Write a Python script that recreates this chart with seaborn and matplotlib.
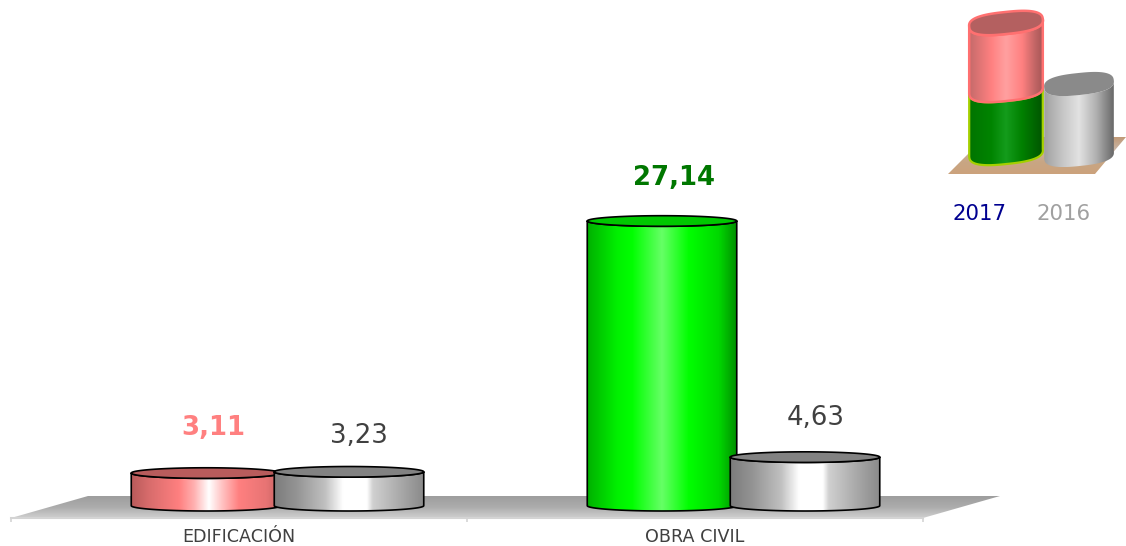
import numpy as np
import pandas as pd
import matplotlib
matplotlib.use("Agg")
import matplotlib.pyplot as plt
import seaborn as sns
from matplotlib.colors import LinearSegmentedColormap as LSC
from matplotlib.patches import Polygon

categories = ["EDIFICACIÓN", "OBRA CIVIL"]
years = ["2017", "2016"]
values_2017 = [3.11, 27.14]
values_2016 = [3.23, 4.63]
labels_2017 = ["3,11", "27,14"]
labels_2016 = ["3,23", "4,63"]

W, H = 1126, 546
PX_PER_UNIT = 10.49
AX_L, AX_R, AX_B, AX_T = 11, 923, 518, 120
ZERO_PX = 505.7

sns.set_theme(style="white")
plt.rcParams["font.family"] = ["DejaVu Sans"]

df = pd.DataFrame({
    "categoria": categories * 2,
    "year": [years[0]] * 2 + [years[1]] * 2,
    "valor": values_2017 + values_2016,
})

fig = plt.figure(figsize=(W / 100, H / 100), dpi=100, facecolor="white")
ax = fig.add_axes([AX_L / W, 1 - AX_B / H, (AX_R - AX_L) / W, (AX_B - AX_T) / H])
ov = fig.add_axes([0, 0, 1, 1], zorder=-1)
ov.set_xlim(0, W); ov.set_ylim(H, 0); ov.axis("off")
ax.patch.set_alpha(0)

sns.barplot(data=df, x="categoria", y="valor", hue="year", hue_order=years,
            order=categories, width=143 * 2 / 456, gap=1 - 149.5 / 143,
            saturation=1, legend=False, ax=ax)

x0 = 0 + (AX_L - 277.5) / 456
ax.set_xlim(x0, x0 + (AX_R - AX_L) / 456)
ax.set_ylim((ZERO_PX - AX_B) / PX_PER_UNIT, (ZERO_PX - AX_T) / PX_PER_UNIT)
xlim, ylim = ax.get_xlim(), ax.get_ylim()

red = LSC.from_list("r", [(0, "#b85a5a"), (.12, "#d86c6c"), (.32, "#ff8080"), (.42, "#ffb0b0"),
                          (.52, "#ffffff"), (.60, "#ffc8c8"), (.72, "#ff8080"), (.9, "#e87474"), (1, "#c86464")])
gray = LSC.from_list("g", [(0, "#7c7c7c"), (.15, "#949494"), (.34, "#c0c0c0"), (.46, "#ffffff"),
                           (.62, "#ffffff"), (.66, "#d0d0d0"), (.85, "#a8a8a8"), (1, "#8a8a8a")])
green = LSC.from_list("v", [(0, "#00b000"), (.2, "#00f000"), (.3, "#00ff00"), (.5, "#66ff66"),
                            (.68, "#00ff00"), (.88, "#00d800"), (1, "#009000")])
grad_x = np.linspace(0, 1, 256).reshape(1, -1)


def ell(cx, cy, rx, ry, a=0.0, t=None, p=1.0):
    t = np.linspace(0, 2 * np.pi, 120) if t is None else t
    c, s = np.cos(a), np.sin(a)
    ex = rx * np.sign(np.cos(t)) * np.abs(np.cos(t)) ** p
    ey = ry * np.sign(np.sin(t)) * np.abs(np.sin(t)) ** p
    return np.column_stack([cx + ex * c - ey * s, cy + ex * s + ey * c])


def cylinder(a, xl, xr, y_bot, y_top, ry, cmap, top, edge, lw, z, angle=0.0, sign=1, p=1.0):
    cx, rx = (xl + xr) / 2, (xr - xl) / 2
    low = np.linspace(np.pi, 2 * np.pi, 60) if sign == 1 else np.linspace(np.pi, 0, 60)
    up = low[::-1]
    body = np.vstack([ell(cx, y_bot, rx, ry, angle, low, p), ell(cx, y_top, rx, ry, angle, up, p)])
    patch = Polygon(body, closed=True, fc="none", ec=edge, lw=lw, zorder=z + .2, joinstyle="round")
    ys = body[:, 1]
    im = a.imshow(grad_x, cmap=cmap, aspect="auto", zorder=z, interpolation="bilinear",
                  extent=[body[:, 0].min(), body[:, 0].max(), ys.min(), ys.max()])
    a.add_patch(patch)
    im.set_clip_path(patch)
    if top is not None:
        a.add_patch(Polygon(ell(cx, y_top, rx, ry, angle, None, p), closed=True, fc=top, ec=edge,
                            lw=lw, zorder=z + .3))


floor = Polygon([(11, 518), (923, 518), (1000, 496), (88, 496)], closed=True, fc="none", ec="none")
ov.add_patch(floor)
fg = ov.imshow(np.linspace(0, 1, 64).reshape(-1, 1),
               cmap=LSC.from_list("f", ["#9e9e9e", "#acacac", "#cfcfcf"]),
               extent=[11, 1000, 518, 496], aspect="auto", zorder=1)
fg.set_clip_path(floor)

styles = [
    [(red, "#b85c5c"), (green, "#00c800")],
    [(gray, "#828282"), (gray, "#828282")],
]
label_sets = [labels_2017, labels_2016]
label_styles = [
    [dict(color="#ff8080", fontweight="bold"), dict(color="#007700", fontweight="bold")],
    [dict(color="#404040"), dict(color="#404040")],
]
label_off = [[(7, 45), (12, 43)], [(10, 36), (11, 39)]]

RY = 5.3 / PX_PER_UNIT
bars = list(ax.patches)
n = len(categories)
for s in range(2):
    for c in range(n):
        b = bars[s * n + c]
        b.set_visible(False)
        xl, xr, h = b.get_x(), b.get_x() + b.get_width(), b.get_height()
        cmap, top = styles[s][c]
        cylinder(ax, xl, xr, 0, h, RY, cmap, top, "#000000", 1.2, 3 + s)
        dx, dy = label_off[s][c]
        ax.annotate(label_sets[s][c], xy=((xl + xr) / 2, h), xytext=(dx * .72, dy * .72),
                    textcoords="offset points", ha="center", va="center",
                    fontsize=18.7, zorder=8, annotation_clip=False, **label_styles[s][c])

ax.set_xlim(xlim); ax.set_ylim(ylim)
sns.despine(ax=ax, left=True, top=True, right=True)
ax.spines["bottom"].set_color("#d4d4d4")
ax.spines["bottom"].set_linewidth(1.5)
ax.set_yticks([])
ax.set_xlabel(""); ax.set_ylabel("")
tick_edges = [x0, x0 + 1, x0 + 2]
ax.set_xticks(tick_edges, minor=True)
ax.set_xticks([x0 + .5, x0 + 1.5], categories)
ax.tick_params(axis="x", which="major", length=0, pad=7.5, labelsize=12.6, labelcolor="#404040")
ax.tick_params(axis="x", which="minor", length=3, width=1.2, color="#d4d4d4", bottom=True)

lf = Polygon([(948, 174), (1095, 174), (1126, 137), (985, 137)], closed=True, fc="none", ec="none")
ov.add_patch(lf)
lg = ov.imshow(np.linspace(0, 1, 64).reshape(-1, 1),
               cmap=LSC.from_list("t", ["#c09a78", "#c8b4a4", "#c8a684", "#cca27c"]),
               extent=[948, 1126, 174, 137], aspect="auto", zorder=1)
lg.set_clip_path(lf)

l_red = LSC.from_list("lr", [(0, "#c46a6a"), (.3, "#ff8080"), (.5, "#ffa0a0"), (.72, "#ff8080"),
                             (.9, "#c06464"), (1, "#a85656")])
l_green = LSC.from_list("lg", [(0, "#007400"), (.3, "#008400"), (.5, "#149c1c"), (.72, "#008000"),
                               (1, "#005400")])
l_gray = LSC.from_list("lk", [(0, "#a0a0a0"), (.25, "#c4c4c4"), (.5, "#e2e2e2"), (.75, "#b0b0b0"),
                              (1, "#686868")])
tilt = np.deg2rad(-6)
cylinder(ov, 1044, 1114, 155, 84, 11, l_gray, "#8a8a8a", "none", 0, 2, tilt, -1, .75)
cylinder(ov, 969, 1043, 153, 90, 11, l_green, None, "#a4d000", 1.6, 3, tilt, -1, .75)
cylinder(ov, 969, 1043, 90, 23, 11, l_red, "#b46060", "#ff7070", 1.8, 4, tilt, -1, .75)
ov.set_xlim(0, W); ov.set_ylim(H, 0)

ov.text(980, 214, years[0], color="#000090", fontsize=15.3, ha="center", va="center", zorder=6)
ov.text(1064, 214, years[1], color="#a0a0a0", fontsize=15.3, ha="center", va="center", zorder=6)

fig.savefig("out.png", dpi=100, facecolor="white")
